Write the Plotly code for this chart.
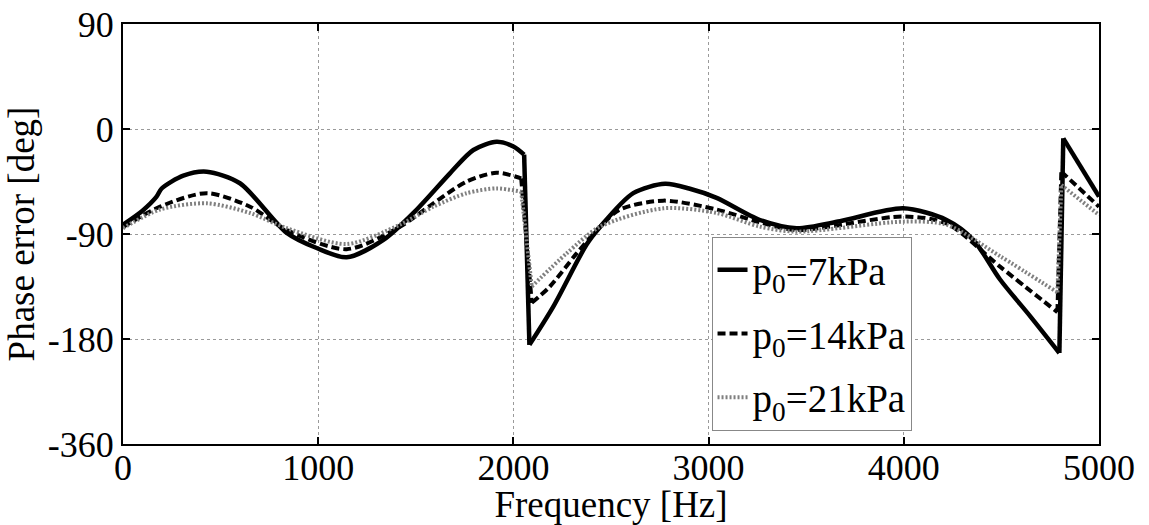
import plotly.graph_objects as go

# Series 1: p0 = 7 kPa (solid)
freq_7 = [0, 100, 172, 198, 309, 429, 599, 839, 992, 1146, 1334, 1505, 1675, 1795, 1914, 2000, 2055,
          2082, 2205, 2375, 2444, 2614, 2777, 2900, 3041, 3263, 3451, 3673, 3997, 4219, 4356, 4493, 4650,
          4797, 4817, 5000]
phase_7 = [-82, -70, -58, -51, -40, -36.6, -46.5, -89, -102, -110, -95, -69, -38, -18, -11, -15, -22,
           -185, -152, -99, -84, -55, -47, -51, -59, -78, -85, -79, -68, -78, -95, -129, -161,
           -192, -8, -58]

# Series 2: p0 = 14 kPa (dashed)
freq_14 = [0, 190, 429, 651, 839, 1146, 1419, 1590, 1761, 1914, 2040,
           2094, 2187, 2324, 2444, 2546, 2768, 3041, 3263, 3451, 3997, 4219, 4493, 4787,
           4807, 5000]
phase_14 = [-84, -66.6, -55, -66.6, -86.6, -103, -83.7, -63.7, -45, -37.5, -42.3,
            -149, -135, -106.6, -83.7, -69, -61.4, -69, -80, -86.6, -75, -81, -118, -157,
            -36.6, -66.6]

# Series 3: p0 = 21 kPa (dotted)
freq_21 = [0, 190, 429, 651, 839, 1146, 1419, 1590, 1761, 1914, 2040,
           2094, 2273, 2444, 2768, 3041, 3263, 3451, 3997, 4219, 4493, 4787,
           4807, 5000]
phase_21 = [-85, -69, -63.7, -72, -85, -98.6, -82, -66.6, -55, -50.9, -53.7,
            -135, -106.6, -83.7, -68, -72, -83.7, -88, -79.4, -82, -109, -140,
            -48, -73.7]

names = ["p<sub>0</sub>=7kPa", "p<sub>0</sub>=14kPa", "p<sub>0</sub>=21kPa"]

x_ticks = [0, 1000, 2000, 3000, 4000, 5000]
y_tickvals = [90, 0, -90, -180, -270]
y_ticktext = ["90", "0", "-90", "-180", "-360"]

FONT = "Liberation Serif, Times New Roman, serif"

styles = [
    dict(color="black", width=4.5),
    dict(color="black", width=4, dash="8px,4px"),
    dict(color="#808080", width=4, dash="2px,2px"),
]
series = [(freq_7, phase_7), (freq_14, phase_14), (freq_21, phase_21)]

fig = go.Figure()
for i, ((fx, fy), name, st) in enumerate(zip(series, names, styles)):
    # split at phase wraps (large jumps) so smooth parts are splined, jumps straight
    breaks = [k for k in range(1, len(fx)) if abs(fy[k] - fy[k - 1]) > 80]
    starts = [0] + breaks
    ends = breaks + [len(fx)]
    first = True
    for s, e in zip(starts, ends):
        fig.add_trace(go.Scatter(x=fx[s:e], y=fy[s:e], mode="lines", name=name,
                                 legendgroup=f"g{i}", showlegend=first,
                                 line=dict(shape="spline", smoothing=0.8, **st)))
        first = False
    for b in breaks:
        fig.add_trace(go.Scatter(x=fx[b - 1:b + 1], y=fy[b - 1:b + 1], mode="lines",
                                 legendgroup=f"g{i}", showlegend=False, line=st))

axis_common = dict(
    showline=True, linecolor="black", linewidth=2, mirror="ticks",
    ticks="inside", ticklen=7, tickwidth=2, tickcolor="black",
    showgrid=True, gridcolor="#9a9a9a", gridwidth=1, griddash="dot",
    zeroline=False, automargin=False,
    tickfont=dict(family=FONT, size=36, color="black"),
)

fig.update_xaxes(range=[0, 5000], tickvals=x_ticks, ticktext=[str(v) for v in x_ticks],
                 title=dict(text="Frequency [Hz]", font=dict(family=FONT, size=37, color="black"),
                            standoff=0),
                 ticklabelstandoff=-9,
                 **axis_common)
fig.update_yaxes(range=[-270, 90], tickvals=y_tickvals, ticktext=y_ticktext,
                 title=dict(text="Phase error [deg]", font=dict(family=FONT, size=37, color="black"),
                            standoff=2),
                 **axis_common)

fig.update_layout(
    width=1149, height=525,
    margin=dict(l=123, r=50, t=24, b=81),
    paper_bgcolor="white", plot_bgcolor="white",
    font=dict(family=FONT, color="black"),
    showlegend=True,
    legend=dict(x=0.603, y=0.493, xanchor="left", yanchor="top",
                bgcolor="white", bordercolor="#888", borderwidth=1,
                font=dict(family=FONT, size=39, color="black"),
                itemwidth=30, tracegroupgap=10, traceorder="grouped"),
)

fig.write_html("out.html")
